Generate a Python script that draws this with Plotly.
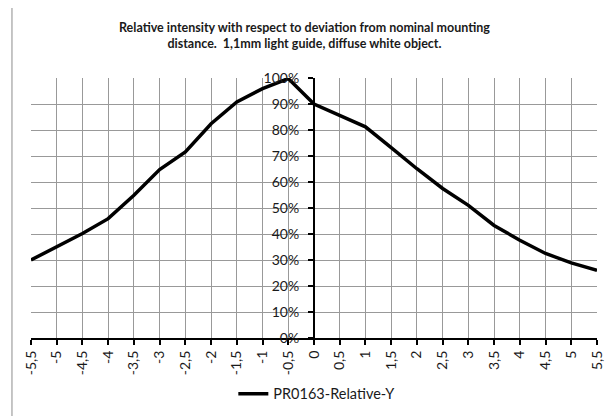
import plotly.graph_objects as go

categories = ["-5,5", "-5", "-4,5", "-4", "-3,5", "-3", "-2,5", "-2", "-1,5", "-1", "-0,5",
              "0", "0,5", "1", "1,5", "2", "2,5", "3", "3,5", "4", "4,5", "5", "5,5"]
relative_y = [0.30, 0.351, 0.402, 0.459, 0.549, 0.648, 0.716, 0.824, 0.908, 0.959, 0.998,
              0.90, 0.856, 0.812, 0.732, 0.651, 0.575, 0.51, 0.433, 0.376, 0.325, 0.289, 0.26]
series_name = "PR0163-Relative-Y"
title_text = ("<b>Relative intensity with respect to deviation from nominal mounting<br>"
              "distance.  1,1mm light guide, diffuse white object.</b>")
y_tickvals = [i / 10 for i in range(11)]
y_ticktext = [f"{i*10}%" for i in range(11)]

FONT = "Lato, Calibri, Carlito, sans-serif"
TXT = "#1a1a1a"

fig = go.Figure()
fig.add_trace(go.Scatter(x=categories, y=relative_y, mode="lines", name=series_name,
                         line=dict(color="black", width=3.5)))

# page body has an 8px default margin; compensate so the plot area lands where it should
fig.update_layout(
    width=614, height=416,
    margin=dict(l=23, r=25, t=70, b=86, autoexpand=False),
    paper_bgcolor="white", plot_bgcolor="white",
    font=dict(family=FONT, size=14, color=TXT),
    showlegend=True,
    legend=dict(orientation="h", x=0.505, xanchor="center", y=-0.215, yanchor="middle",
                font=dict(size=14.5, family=FONT, color=TXT), bgcolor="rgba(0,0,0,0)"),
    xaxis=dict(type="category", range=[0, len(categories) - 1], automargin=False,
               showgrid=True, gridcolor="#999999", gridwidth=1,
               showline=True, linecolor="black", linewidth=2,
               ticks="outside", ticklen=5, tickcolor="black", tickwidth=1.5,
               tickangle=-90, tickfont=dict(size=14, family=FONT, color=TXT),
               zeroline=False, fixedrange=True),
    yaxis=dict(range=[0, 1], tickvals=y_tickvals, ticktext=y_ticktext, automargin=False,
               showgrid=True, gridcolor="#999999", gridwidth=1,
               anchor="free", position=0.5,
               showline=True, linecolor="black", linewidth=2,
               ticks="outside", ticklen=5, tickcolor="black", tickwidth=1.5,
               ticklabelstandoff=6,
               tickfont=dict(size=14, family=FONT, color=TXT),
               zeroline=False, fixedrange=True),
    annotations=[dict(text=title_text, xref="paper", yref="paper",
                      x=0.484, y=1.163, xanchor="center", yanchor="middle",
                      showarrow=False, font=dict(size=12.5, family=FONT, color=TXT))],
    shapes=[dict(type="rect", xref="paper", yref="paper",
                 x0=-0.0336, x1=1.2, y0=-0.5, y1=1.273,
                 line=dict(color="#8c8c8c", width=1), fillcolor="rgba(0,0,0,0)",
                 layer="below")],
)

fig.write_html("out.html")
